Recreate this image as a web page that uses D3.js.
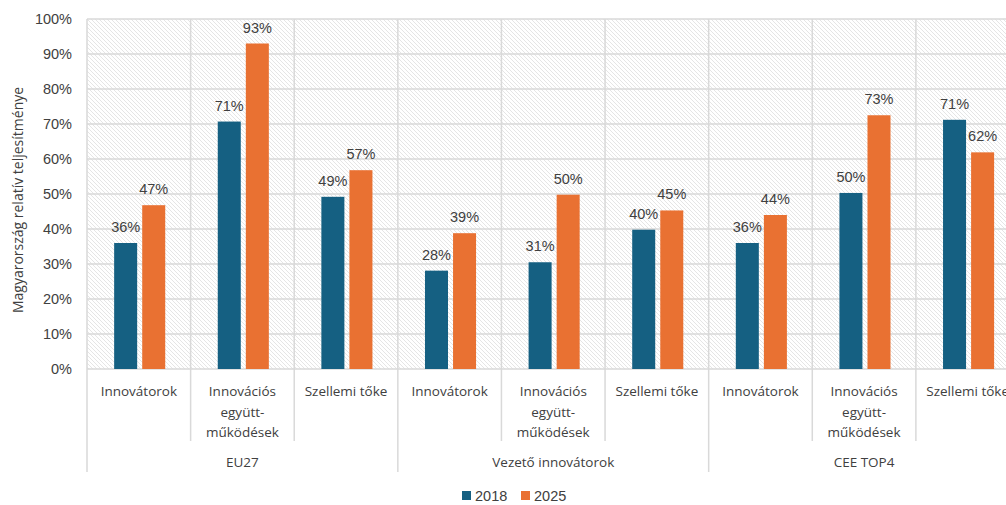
<!DOCTYPE html>
<html>
<head>
<meta charset="utf-8">
<script src="https://cdn.jsdelivr.net/npm/d3@7/dist/d3.min.js"></script>
<style>
  html, body { margin: 0; padding: 0; background: #fff; }
  svg { display: block; }
</style>
</head>
<body>
<svg id="chart" width="1006" height="505"></svg>
<script>
// ---- Data ----
const groups = ["EU27", "Vezető innovátorok", "CEE TOP4"];
const subcategories = ["Innovátorok", "Innovációs együtt-működések", "Szellemi tőke"];
const subLabelLines = [["Innovátorok"], ["Innovációs", "együtt-", "működések"], ["Szellemi tőke"]];
const seriesNames = ["2018", "2025"];
const values2018 = [36.0, 70.7, 49.2, 28.1, 30.5, 39.8, 36.0, 50.3, 71.2];
const values2025 = [46.8, 93.0, 56.8, 38.8, 49.8, 45.3, 44.0, 72.5, 61.9];
const yTicks = [0, 10, 20, 30, 40, 50, 60, 70, 80, 90, 100];
const yTitle = "Magyarország relatív teljesítménye";
const colors = ["#156082", "#E97132"];

// ---- Layout ----
const W = 1006, H = 505;
const pLeft = 87, pRight = 1019.5, pTop = 19, pBottom = 369;
const svg = d3.select("#chart");

const cats = [];
groups.forEach((g, gi) => subcategories.forEach((s, si) => cats.push({ id: gi + "_" + si, g: gi, s: si })));
const data = cats.map((c, i) => ({ ...c, v: [values2018[i], values2025[i]] }));

const x = d3.scaleBand().domain(cats.map(c => c.id)).range([pLeft, pRight]).padding(0);
const bw = x.bandwidth();
const xs = d3.scaleBand().domain(seriesNames).range([bw * 0.262, bw * 0.755]).paddingInner(0.18);
const y = d3.scaleLinear().domain([0, 100]).range([pBottom, pTop]);

// hatch pattern
const defs = svg.append("defs");
const pat = defs.append("pattern").attr("id", "hatch").attr("patternUnits", "userSpaceOnUse")
  .attr("width", 4).attr("height", 4);
pat.append("rect").attr("width", 4).attr("height", 4).attr("fill", "#fff");
pat.append("path").attr("d", "M-1,-1 L5,5 M-1,3 L1,5 M3,-1 L5,1")
  .attr("stroke", "#dcdcdc").attr("stroke-width", 0.75);

defs.append("clipPath").attr("id", "clip").append("rect").attr("x", 0).attr("y", 0).attr("width", W).attr("height", H);

const g = svg.append("g").attr("clip-path", "url(#clip)");

g.append("rect").attr("x", pLeft).attr("y", pTop).attr("width", pRight - pLeft).attr("height", pBottom - pTop)
  .attr("fill", "url(#hatch)");

const gridColor = "#d9d9d9";
// horizontal gridlines
g.append("g").selectAll("line").data(yTicks).join("line")
  .attr("x1", pLeft).attr("x2", pRight)
  .attr("y1", d => y(d)).attr("y2", d => y(d))
  .attr("stroke", gridColor).attr("stroke-width", 1.5);

// vertical separators
const boundaries = d3.range(cats.length + 1);
g.append("g").selectAll("line").data(boundaries).join("line")
  .attr("x1", i => i < cats.length ? x(cats[i].id) : pRight)
  .attr("x2", i => i < cats.length ? x(cats[i].id) : pRight)
  .attr("y1", pTop)
  .attr("y2", i => (i % 3 === 0) ? 472 : 441)
  .attr("stroke", gridColor).attr("stroke-width", 1.5);

// bars
const catG = g.append("g").selectAll("g").data(data).join("g")
  .attr("transform", d => `translate(${x(d.id)},0)`);
catG.selectAll("rect").data(d => d.v.map((v, k) => ({ v, k }))).join("rect")
  .attr("x", d => xs(seriesNames[d.k]))
  .attr("width", xs.bandwidth())
  .attr("y", d => y(d.v))
  .attr("height", d => pBottom - y(d.v))
  .attr("fill", d => colors[d.k]);

// data labels
catG.selectAll("text").data(d => d.v.map((v, k) => ({ v, k }))).join("text")
  .attr("x", d => xs(seriesNames[d.k]) + xs.bandwidth() / 2)
  .attr("y", d => y(d.v) - 11)
  .attr("text-anchor", "middle")
  .attr("font-family", "Liberation Sans, Arial, sans-serif")
  .attr("font-size", 14.5).attr("fill", "#404040")
  .text(d => Math.round(d.v) + "%");

// y axis labels
svg.append("g").selectAll("text").data(yTicks).join("text")
  .attr("x", 72).attr("y", d => y(d) + 5)
  .attr("text-anchor", "end")
  .attr("font-family", "Liberation Sans, Arial, sans-serif")
  .attr("font-size", 14.5).attr("fill", "#404040")
  .text(d => d + "%");

// y title
svg.append("text")
  .attr("transform", `translate(23,200) rotate(-90)`)
  .attr("text-anchor", "middle")
  .attr("font-family", "Open Sans, sans-serif")
  .attr("font-size", 14).attr("fill", "#404040")
  .text(yTitle);

// category labels
const labG = g.append("g").selectAll("text").data(cats).join("text")
  .attr("text-anchor", "middle")
  .attr("font-family", "Open Sans, sans-serif")
  .attr("font-size", 13.5).attr("fill", "#404040");
labG.each(function (c) {
  const t = d3.select(this);
  subLabelLines[c.s].forEach((line, li) => {
    t.append("tspan").attr("x", x(c.id) + bw / 2).attr("y", 396 + li * 20.5).text(line);
  });
});

// group labels
g.append("g").selectAll("text").data(groups).join("text")
  .attr("x", (d, i) => x(cats[i * 3].id) + bw * 1.5)
  .attr("y", 467)
  .attr("text-anchor", "middle")
  .attr("font-family", "Open Sans, sans-serif")
  .attr("font-size", 13.5).attr("fill", "#404040")
  .text(d => d);

// legend
const legend = svg.append("g");
const legX = [462, 521];
seriesNames.forEach((s, i) => {
  legend.append("rect").attr("x", legX[i]).attr("y", 491).attr("width", 9).attr("height", 9).attr("fill", colors[i]);
  legend.append("text").attr("x", legX[i] + 13).attr("y", 501)
    .attr("font-family", "Liberation Sans, Arial, sans-serif")
    .attr("font-size", 14.5).attr("fill", "#404040").text(s);
});
</script>
</body>
</html>
